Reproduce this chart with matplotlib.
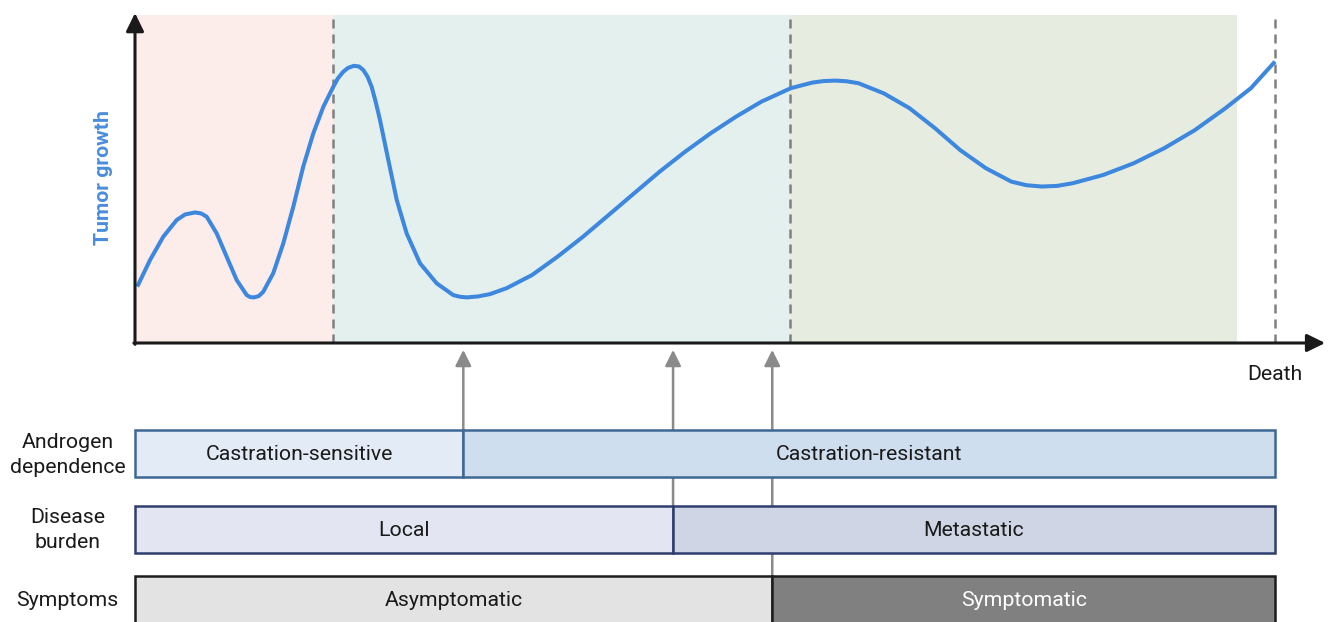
import matplotlib.pyplot as plt
from matplotlib.patches import Rectangle

plt.rcParams["font.family"] = ["Roboto", "DejaVu Sans"]

# tumour growth curve (time 0..100 = diagnosis..death, growth in arbitrary units)
time = [0.2, 1.32, 2.48, 3.66, 4.4, 5.26, 5.8, 6.29, 7.17, 8.04, 8.92, 9.8, 10.1,
        10.44, 10.85, 11.25, 12.13, 13.01, 13.89, 14.76, 15.64, 16.52, 17.39,
        17.8, 18.27, 18.7, 19.21, 19.65, 20.03, 20.4, 20.76, 21.1, 21.49, 22.22,
        22.96, 23.83, 25.0, 26.46, 27.92, 28.5, 29.1, 30.1, 31.14,
        32.59, 34.82, 37.06, 39.3, 41.54, 43.77, 46.01, 48.25, 50.48, 52.72,
        54.96, 57.54, 59.43, 60.4, 61.44, 62.4, 63.46, 65.69, 67.93, 70.17, 72.39,
        74.63, 76.87, 78.2, 79.56, 80.9, 82.24, 84.91, 87.61, 90.29, 92.97, 95.66,
        97.89, 100.0]
growth = [17.2, 25.3, 32.4, 37.5, 39.2, 39.8, 39.5, 38.5, 33.4, 26.3, 19.2, 14.6, 14.0,
          13.9, 14.3, 15.6, 21.3, 30.4, 41.6, 53.8, 63.9, 72.0, 78.1,
          80.7, 82.7, 83.9, 84.5, 84.3, 83.2, 81.2, 78.1, 73.7, 68.0, 55.8,
          43.6, 33.4, 24.3, 18.2, 14.6, 14.1, 13.9, 14.2, 14.9,
          16.7, 20.7, 26.3, 32.4, 39.0, 45.6, 52.2, 58.3, 63.9, 69.0,
          73.6, 77.7, 79.4, 79.85, 80.0, 79.8, 79.2, 76.1, 71.6, 65.5, 58.8,
          53.3, 49.2, 48.1, 47.7, 47.9, 48.7, 51.2, 54.8, 59.4, 64.9, 71.6,
          77.7, 85.8]

phase_bounds = [0, 17.4, 57.5, 96.7]
phase_colors = ["#fcecea", "#e3f0ee", "#e6ece0"]
dashed_times = [17.4, 57.5, 100.0]
death_time = 100.0

track_names = ["Androgen\ndependence", "Disease\nburden", "Symptoms"]
track_labels = [["Castration-sensitive", "Castration-resistant"],
                ["Local", "Metastatic"],
                ["Asymptomatic", "Symptomatic"]]
track_splits = [28.8, 47.2, 55.9]

# layout (same units as the plot)
track_tops = [-26.5, -49.7, -71.0]
track_bottoms = [-40.9, -64.0, -85.3]
track_text_y = [-34.0, -57.1, -78.6]
track_fills = [["#e3ecf6", "#cfdeee"], ["#e3e6f2", "#cfd5e5"], ["#e3e3e3", "#808080"]]
track_edges = ["#3e6894", "#2f3e6c", "#1c1c1c"]
track_text = [["#1a1a1a", "#1a1a1a"], ["#1a1a1a", "#1a1a1a"], ["#1a1a1a", "#ffffff"]]
top_g = 100.0
fs = 15.3

fig = plt.figure(figsize=(13.3, 6.22), dpi=100)
ax = fig.add_axes([0, 0, 1, 1])
ax.set_xlim(-11.842, 104.825)
ax.set_ylim(-85.06, 104.57)
ax.axis("off")

for i, c in enumerate(phase_colors):
    ax.add_patch(Rectangle((phase_bounds[i], 0), phase_bounds[i + 1] - phase_bounds[i],
                           top_g, facecolor=c, edgecolor="none", zorder=0))

for t in dashed_times:
    ax.plot([t, t], [0, top_g], color="#808080", lw=1.8,
            linestyle=(0, (3.6, 2.4)), zorder=1)

ax.plot(time, growth, color="#3d87df", lw=2.9, solid_joinstyle="round",
        solid_capstyle="butt", zorder=3)

# axes with arrow heads
axis_style = "-|>,head_length=0.55,head_width=0.27"
ax.annotate("", xy=(0, 100.6), xytext=(0, -0.4),
            arrowprops=dict(arrowstyle=axis_style, color="#1a1a1a", lw=2.2,
                            mutation_scale=20, shrinkA=0, shrinkB=0), zorder=4)
ax.annotate("", xy=(104.4, 0), xytext=(-0.1, 0),
            arrowprops=dict(arrowstyle=axis_style, color="#1a1a1a", lw=2.2,
                            mutation_scale=20, shrinkA=0, shrinkB=0), zorder=4)

ax.text(-2.8, 50.6, "Tumor growth", rotation=90, ha="center", va="center",
        fontsize=fs, fontweight="bold", color="#4a8ddc")
ax.text(death_time, -9.5, "Death", ha="center", va="center", fontsize=fs,
        color="#1a1a1a")

# transition arrows
for split, top in zip(track_splits, track_tops):
    ax.annotate("", xy=(split, -2.1), xytext=(split, top),
                arrowprops=dict(arrowstyle="-|>,head_length=0.48,head_width=0.24",
                                color="#8a8a8a", lw=1.8, mutation_scale=20,
                                shrinkA=0, shrinkB=0), zorder=2)

# tracks
for k in range(3):
    edges = [0, track_splits[k], death_time]
    for j in range(2):
        ax.add_patch(Rectangle((edges[j], track_bottoms[k]), edges[j + 1] - edges[j],
                               track_tops[k] - track_bottoms[k],
                               facecolor=track_fills[k][j], edgecolor=track_edges[k],
                               lw=1.8, zorder=3))
        ax.text((edges[j] + edges[j + 1]) / 2, track_text_y[k], track_labels[k][j],
                ha="center", va="center", fontsize=fs, color=track_text[k][j], zorder=5)
    ax.text(-5.9, track_text_y[k], track_names[k], ha="center", va="center",
            fontsize=fs, color="#1a1a1a", linespacing=1.4)

fig.savefig("out.png", dpi=100)
